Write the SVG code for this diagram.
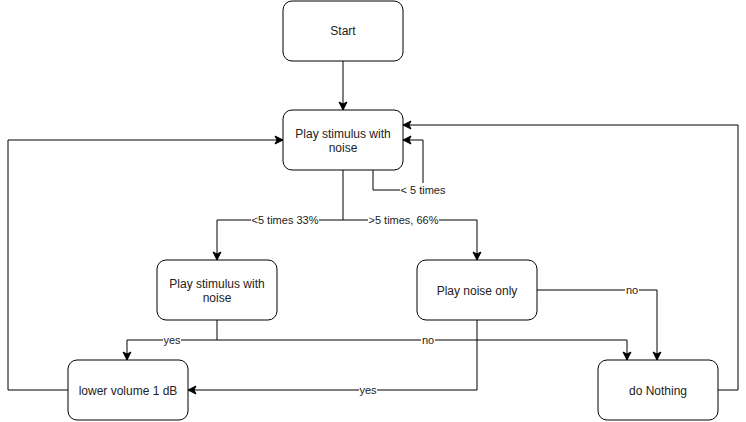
<svg xmlns="http://www.w3.org/2000/svg" width="746" height="422" viewBox="0 0 746 422">
<defs>
<style>
.node rect{fill:#fff;stroke:#000;stroke-width:1}
.node text{font-family:"Liberation Sans",Arial,sans-serif;font-size:12px;fill:#222;text-anchor:middle}
.edge{fill:none;stroke:#000;stroke-width:1}
.lbl rect{fill:#fff}
.lbl text{font-family:"Liberation Sans",Arial,sans-serif;font-size:11px;fill:#222;text-anchor:middle}
</style>
<marker id="arr" markerUnits="userSpaceOnUse" markerWidth="10" markerHeight="10" viewBox="0 0 10 10" refX="9" refY="5" orient="auto">
<path d="M1,1 L9,5 L1,9 L3,5 Z" fill="#000" stroke="#000" stroke-width="1"/>
</marker>
</defs>
<rect width="746" height="422" fill="#fff"/>
<g id="connectors">
<path class="edge" d="M343,61 V110" marker-end="url(#arr)"/>
<path class="edge" d="M343,170 V220 H217 V260" marker-end="url(#arr)"/>
<path class="edge" d="M343,220 H477 V260" marker-end="url(#arr)"/>
<path class="edge" d="M373,170 V190 H423 V140 H403" marker-end="url(#arr)"/>
<path class="edge" d="M718,390 H738 V125 H403" marker-end="url(#arr)"/>
<path class="edge" d="M68,390 H8 V140 H283" marker-end="url(#arr)"/>
<path class="edge" d="M217,320 V340 H127 V360" marker-end="url(#arr)"/>
<path class="edge" d="M217,340 H627 V360" marker-end="url(#arr)"/>
<path class="edge" d="M477,320 V390 H188" marker-end="url(#arr)"/>
<path class="edge" d="M537,290 H657 V360" marker-end="url(#arr)"/>
<g class="lbl">
<rect x="251" y="213" width="68" height="14"/><text x="285" y="224">&lt;5 times 33%</text>
<rect x="368" y="213" width="71" height="14"/><text x="403.5" y="224">&gt;5 times, 66%</text>
<rect x="400" y="183" width="46" height="14"/><text x="423" y="194">&lt; 5 times</text>
<rect x="163" y="333" width="18" height="14"/><text x="172" y="344">yes</text>
<rect x="421" y="333" width="14" height="14"/><text x="428" y="344">no</text>
<rect x="359" y="383" width="18" height="14"/><text x="368" y="394">yes</text>
<rect x="625" y="283" width="14" height="14"/><text x="632" y="294">no</text>
</g>
</g>
<g id="start" class="node"><rect x="283" y="1" width="120" height="60" rx="9"/><text x="343" y="34.5">Start</text></g>
<g id="play-stimulus" class="node"><rect x="283" y="110" width="120" height="60" rx="9"/><text x="343" y="137.5">Play stimulus with</text><text x="343" y="152">noise</text></g>
<g id="play-stimulus-2" class="node"><rect x="157" y="260" width="120" height="60" rx="9"/><text x="217" y="287.5">Play stimulus with</text><text x="217" y="302">noise</text></g>
<g id="play-noise" class="node"><rect x="417" y="260" width="120" height="60" rx="9"/><text x="477" y="294.5">Play noise only</text></g>
<g id="lower-volume" class="node"><rect x="68" y="360" width="120" height="60" rx="9"/><text x="128" y="394.5">lower volume 1 dB</text></g>
<g id="do-nothing" class="node"><rect x="598" y="360" width="120" height="60" rx="9"/><text x="658" y="394.5">do Nothing</text></g>
</svg>
